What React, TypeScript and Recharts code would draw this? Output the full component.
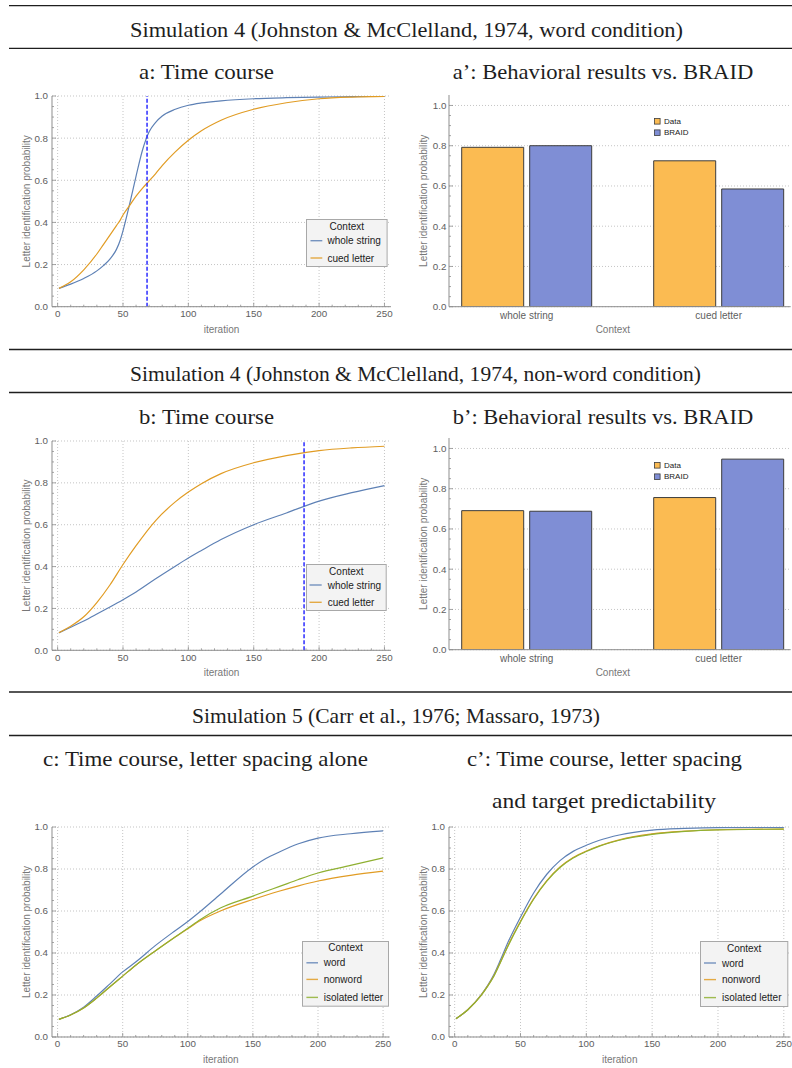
import React from 'react';
import { LineChart, Line, XAxis, YAxis, CartesianGrid, ReferenceLine, BarChart, Bar } from 'recharts';

// ---------------- data ----------------
const ITER_A = [1, 10, 20, 30, 35, 40, 45, 48, 50, 55, 60, 65, 70, 75, 80, 90, 100, 110, 125, 150, 175, 200, 225, 250];
const A_WHOLE = [0.087, 0.107, 0.134, 0.17, 0.195, 0.226, 0.272, 0.318, 0.36, 0.485, 0.62, 0.745, 0.83, 0.875, 0.905, 0.937, 0.956, 0.967, 0.977, 0.987, 0.992, 0.995, 0.997, 0.998];
const A_CUED = [0.087, 0.118, 0.175, 0.25, 0.295, 0.34, 0.385, 0.412, 0.435, 0.48, 0.525, 0.563, 0.597, 0.632, 0.67, 0.735, 0.79, 0.835, 0.885, 0.937, 0.968, 0.987, 0.995, 0.998];
const A_THRESHOLD = 68.4;

const ITER_B = [1, 10, 20, 30, 40, 50, 60, 75, 90, 100, 110, 125, 150, 175, 200, 225, 250];
const B_WHOLE = [0.084, 0.11, 0.14, 0.173, 0.207, 0.242, 0.279, 0.342, 0.402, 0.441, 0.477, 0.529, 0.6, 0.656, 0.713, 0.753, 0.787];
const B_CUED = [0.084, 0.115, 0.16, 0.228, 0.312, 0.41, 0.5, 0.62, 0.709, 0.756, 0.796, 0.844, 0.896, 0.93, 0.954, 0.967, 0.975];
const B_THRESHOLD = 188.5;

const ITER_C = [1, 10, 20, 30, 40, 50, 60, 75, 90, 100, 110, 125, 150, 160, 170, 185, 200, 225, 250];
const C_WORD = [0.084, 0.106, 0.142, 0.195, 0.252, 0.31, 0.357, 0.435, 0.505, 0.55, 0.6, 0.68, 0.81, 0.85, 0.88, 0.92, 0.947, 0.968, 0.982];
const C_NONWORD = [0.084, 0.105, 0.138, 0.185, 0.238, 0.29, 0.342, 0.41, 0.475, 0.516, 0.556, 0.6, 0.655, 0.675, 0.694, 0.72, 0.743, 0.77, 0.79];
const C_ISOLATED = [0.084, 0.105, 0.138, 0.185, 0.238, 0.29, 0.342, 0.41, 0.475, 0.518, 0.561, 0.614, 0.671, 0.694, 0.716, 0.75, 0.781, 0.817, 0.853];

const ITER_D = [1, 10, 20, 25, 30, 35, 40, 50, 60, 70, 80, 90, 100, 110, 125, 150, 175, 200, 250];
const D_WORD = [0.087, 0.13, 0.2, 0.245, 0.3, 0.37, 0.444, 0.571, 0.686, 0.775, 0.84, 0.884, 0.913, 0.937, 0.962, 0.985, 0.993, 0.997, 0.998];
const D_NONWORD = [0.087, 0.13, 0.198, 0.242, 0.294, 0.36, 0.429, 0.551, 0.659, 0.745, 0.81, 0.855, 0.886, 0.911, 0.939, 0.967, 0.98, 0.987, 0.99];
const D_ISOLATED = [0.087, 0.13, 0.197, 0.241, 0.292, 0.358, 0.426, 0.548, 0.656, 0.742, 0.807, 0.852, 0.883, 0.909, 0.937, 0.965, 0.979, 0.986, 0.99];

const BAR_CATEGORIES = ['whole string', 'cued letter'];
const A_DATA = [0.792, 0.725];
const A_BRAID = [0.8, 0.585];
const B_DATA = [0.691, 0.756];
const B_BRAID = [0.688, 0.947];

const X_TICKS = [0, 50, 100, 150, 200, 250];
const X_MINOR_TICKS = [0, 10, 20, 30, 40, 50, 60, 70, 80, 90, 100, 110, 120, 130, 140, 150, 160, 170, 180, 190, 200, 210, 220, 230, 240, 250];
const Y_TICKS = [0, 0.2, 0.4, 0.6, 0.8, 1.0];
const Y_MINOR_TICKS = [0, 0.05, 0.1, 0.15, 0.2, 0.25, 0.3, 0.35, 0.4, 0.45, 0.5, 0.55, 0.6, 0.65, 0.7, 0.75, 0.8, 0.85, 0.9, 0.95, 1.0];

const TITLES = [
  { t: 'Simulation 4 (Johnston & McClelland, 1974, word condition)', x: 130, y: 36.7, w: 553 },
  { t: 'a: Time course', x: 139, y: 79, w: 135 },
  { t: 'a\u2019: Behavioral results vs. BRAID', x: 452.7, y: 79, w: 300.6 },
  { t: 'Simulation 4 (Johnston & McClelland, 1974, non-word condition)', x: 130, y: 380.8, w: 571 },
  { t: 'b: Time course', x: 139, y: 423.5, w: 135 },
  { t: 'b\u2019: Behavioral results vs. BRAID', x: 452.7, y: 423.5, w: 300.6 },
  { t: 'Simulation 5 (Carr et al., 1976; Massaro, 1973)', x: 192, y: 723, w: 408 },
  { t: 'c: Time course, letter spacing alone', x: 43, y: 766, w: 325 },
  { t: 'c\u2019: Time course, letter spacing', x: 467, y: 766, w: 275 },
  { t: 'and target predictability', x: 492, y: 808, w: 224 },
];
const RULES = [5.7, 48.3, 349.5, 392.5, 692, 735.5];

// ---------------- styles ----------------
const SANS = '"Liberation Sans", Arial, Helvetica, sans-serif';
const SERIF = '"Liberation Serif", "DejaVu Serif", serif';
const FRAME = '#8e8e8e';
const TICK_TEXT = '#5e5e5e';
const LABEL_TEXT = '#777777';
const BLUE = '#5e81b5';
const ORANGE = '#e19c24';
const GREEN = '#8fb032';
const DATA_FILL = '#fbbb52';
const BRAID_FILL = '#7f8ed5';
const BAR_EDGE = '#3c3c3c';
const THRESH = '#2c2cff';
const GRID = '#c4c4c4';

const near = (v: number, arr: number[]) => arr.some((m) => Math.abs(m - v) < 1e-6);

function makeTick(side: 'bottom' | 'top' | 'left' | 'right', majors: number[], fmt: ((v: number) => string) | null, gap: number) {
  return (props: any) => {
    const { x, y, payload } = props;
    const v = payload.value as number;
    const major = near(v, majors);
    const len = major ? 4 : 2;
    let line: any = null;
    if (side === 'bottom') line = <line x1={x} x2={x} y1={y} y2={y - len} stroke={FRAME} strokeWidth={0.8} />;
    if (side === 'top') line = <line x1={x} x2={x} y1={y} y2={y + len} stroke={FRAME} strokeWidth={0.8} />;
    if (side === 'left') line = <line x1={x} x2={x + len} y1={y} y2={y} stroke={FRAME} strokeWidth={0.8} />;
    if (side === 'right') line = <line x1={x} x2={x - len} y1={y} y2={y} stroke={FRAME} strokeWidth={0.8} />;
    let label: any = null;
    if (major && fmt) {
      if (side === 'bottom')
        label = (
          <text x={x} y={y + gap} textAnchor="middle" dominantBaseline="central" fontSize={9.8} fontFamily={SANS} fill={TICK_TEXT}>
            {fmt(v)}
          </text>
        );
      if (side === 'left')
        label = (
          <text x={x - gap} y={y} textAnchor="end" dominantBaseline="central" fontSize={9.8} fontFamily={SANS} fill={TICK_TEXT}>
            {fmt(v)}
          </text>
        );
    }
    return (
      <g>
        {line}
        {label}
      </g>
    );
  };
}

const fmtX = (v: number) => String(v);
const fmtY = (v: number) => v.toFixed(1);

const yLabel = (offset: number) => (props: any) => {
  const vb = props.viewBox;
  const cx = vb.x + vb.width - offset;
  const cy = vb.y + vb.height / 2;
  return (
    <text x={cx} y={cy} transform={`rotate(-90 ${cx} ${cy})`} textAnchor="middle" dominantBaseline="central" fontSize={10} fontFamily={SANS} fill={LABEL_TEXT}>
      Letter identification probability
    </text>
  );
};

const xLabel = (text: string, dy: number, dx: number) => (props: any) => {
  const vb = props.viewBox;
  return (
    <text x={vb.x + vb.width / 2 + dx} y={vb.y + dy} textAnchor="middle" dominantBaseline="central" fontSize={10} fontFamily={SANS} fill={LABEL_TEXT}>
      {text}
    </text>
  );
};

type Series = { key: string; name: string; color: string; values: number[] };
type LegendSpec = { x: number; y: number; w: number; h: number; titleY: number; rows: number[]; lx0: number; lx1: number; tx: number };

const Y_AXIS_W = 40;
const X_AXIS_H = 30;

function LineLegend({ spec, series }: { spec: LegendSpec; series: Series[] }) {
  return (
    <svg style={{ position: 'absolute', left: spec.x, top: spec.y, overflow: 'visible' }} width={spec.w} height={spec.h}>
      <rect x={0.5} y={0.5} width={spec.w - 1} height={spec.h - 1} fill="#f3f3f3" stroke="#a8a8a8" strokeWidth={1} />
      <text x={spec.w / 2} y={spec.titleY} textAnchor="middle" dominantBaseline="central" fontSize={10} fontFamily={SANS} fill="#222">
        Context
      </text>
      {series.map((s, i) => (
        <g key={s.key}>
          <line x1={spec.lx0} x2={spec.lx1} y1={spec.rows[i]} y2={spec.rows[i]} stroke={s.color} strokeWidth={1.4} strokeOpacity={0.85} />
          <text x={spec.tx} y={spec.rows[i]} dominantBaseline="central" fontSize={10} fontFamily={SANS} fill="#222">
            {s.name}
          </text>
        </g>
      ))}
    </svg>
  );
}

function TimeCourse(props: {
  left: number;
  top: number;
  width: number;
  height: number;
  iterations: number[];
  series: Series[];
  threshold?: number;
  legend: LegendSpec;
}) {
  const { left, top, width, height, iterations, series, threshold, legend } = props;
  const data = iterations.map((it, i) => {
    const row: any = { it };
    series.forEach((s) => (row[s.key] = s.values[i]));
    return row;
  });
  const ML = 52;
  const MT = 20;
  const MR = 10;
  const MB = 40;
  const xDomain: [number, number] = [-4.3, 255];
  return (
    <>
      <div style={{ position: 'absolute', left: left - ML, top: top - MT }}>
        <LineChart
          width={width + ML + MR}
          height={height + MT + MB}
          data={data}
          margin={{ left: ML - Y_AXIS_W, top: MT, right: MR, bottom: MB - X_AXIS_H }}
        >
          <CartesianGrid stroke={GRID} strokeDasharray="1 2" verticalValues={X_TICKS} horizontalValues={Y_TICKS} />
          <XAxis
            dataKey="it"
            type="number"
            domain={xDomain}
            allowDataOverflow
            ticks={X_MINOR_TICKS}
            interval={0}
            height={X_AXIS_H}
            tickSize={0}
            tickMargin={0}
            tickLine={false}
            axisLine={{ stroke: FRAME }}
            tick={makeTick('bottom', X_TICKS, fmtX, 7)}
            label={{ content: xLabel('iteration', 22.6, 0) }}
          />
          <XAxis
            xAxisId="top"
            orientation="top"
            dataKey="it"
            type="number"
            domain={xDomain}
            allowDataOverflow
            ticks={X_MINOR_TICKS}
            interval={0}
            height={0}
            tickSize={0}
            tickMargin={0}
            tickLine={false}
            axisLine={{ stroke: FRAME }}
            tick={makeTick('top', X_TICKS, null, 0)}
          />
          <YAxis
            type="number"
            domain={[0, 1]}
            allowDataOverflow
            ticks={Y_MINOR_TICKS}
            interval={0}
            width={Y_AXIS_W}
            tickSize={0}
            tickMargin={0}
            tickLine={false}
            axisLine={{ stroke: FRAME }}
            tick={makeTick('left', Y_TICKS, fmtY, 4)}
            label={{ content: yLabel(25.5) }}
          />
          <YAxis
            yAxisId="right"
            orientation="right"
            type="number"
            domain={[0, 1]}
            allowDataOverflow
            ticks={Y_MINOR_TICKS}
            interval={0}
            width={0}
            tickSize={0}
            tickMargin={0}
            tickLine={false}
            axisLine={{ stroke: FRAME }}
            tick={makeTick('right', Y_TICKS, null, 0)}
          />
          {series.map((s) => (
            <Line key={s.key} type="monotone" dataKey={s.key} name={s.name} stroke={s.color} strokeWidth={1.2} dot={false} isAnimationActive={false} />
          ))}
          {threshold !== undefined && <ReferenceLine x={threshold} stroke={THRESH} strokeWidth={1.5} strokeDasharray="4 2" />}
        </LineChart>
      </div>
      <LineLegend spec={legend} series={series} />
    </>
  );
}

function BarPanel(props: { left: number; top: number; width: number; height: number; dataVals: number[]; braidVals: number[]; legendX: number; legendY: number }) {
  const { left, top, width, height, dataVals, braidVals, legendX, legendY } = props;
  const data = BAR_CATEGORIES.map((c, i) => ({ cat: c, data: dataVals[i], braid: braidVals[i] }));
  const ML = 52;
  const MT = 20;
  const MR = 10;
  const MB = 40;
  const yDomain: [number, number] = [0, 1.052];
  const catTick = (p: any) => (
    <text x={p.x} y={p.y + 8.5} textAnchor="middle" dominantBaseline="central" fontSize={10} fontFamily={SANS} fill={TICK_TEXT}>
      {p.payload.value}
    </text>
  );
  const legendItems = [
    { name: 'Data', fill: DATA_FILL },
    { name: 'BRAID', fill: BRAID_FILL },
  ];
  return (
    <>
      <div style={{ position: 'absolute', left: left - ML, top: top - MT }}>
        <BarChart
          width={width + ML + MR}
          height={height + MT + MB}
          data={data}
          barGap={6}
          margin={{ left: ML - Y_AXIS_W, top: MT, right: MR, bottom: MB - X_AXIS_H }}
        >
          <CartesianGrid stroke={GRID} strokeDasharray="1 2" vertical={false} horizontalValues={Y_TICKS} />
          <XAxis
            dataKey="cat"
            type="category"
            padding={{ left: -18.3, right: -24 }}
            height={X_AXIS_H}
            tickSize={0}
            tickMargin={0}
            tickLine={false}
            axisLine={{ stroke: FRAME }}
            tick={catTick}
            interval={0}
            label={{ content: xLabel('Context', 22.5, -7) }}
          />
          <XAxis xAxisId="top" orientation="top" dataKey="cat" type="category" height={0} tickLine={false} tick={false} axisLine={{ stroke: FRAME }} />
          <YAxis
            type="number"
            domain={yDomain}
            allowDataOverflow
            ticks={Y_MINOR_TICKS}
            interval={0}
            width={Y_AXIS_W}
            tickSize={0}
            tickMargin={0}
            tickLine={false}
            axisLine={{ stroke: FRAME }}
            tick={makeTick('left', Y_TICKS, fmtY, 2.6)}
            label={{ content: yLabel(25.5) }}
          />
          <YAxis
            yAxisId="right"
            orientation="right"
            type="number"
            domain={yDomain}
            allowDataOverflow
            ticks={Y_MINOR_TICKS}
            interval={0}
            width={0}
            tickSize={0}
            tickMargin={0}
            tickLine={false}
            axisLine={{ stroke: FRAME }}
            tick={makeTick('right', Y_TICKS, null, 0)}
          />
          <Bar dataKey="data" name="Data" fill={DATA_FILL} stroke={BAR_EDGE} strokeWidth={1} barSize={62} isAnimationActive={false} />
          <Bar dataKey="braid" name="BRAID" fill={BRAID_FILL} stroke={BAR_EDGE} strokeWidth={1} barSize={62} isAnimationActive={false} />
        </BarChart>
      </div>
      <svg style={{ position: 'absolute', left: legendX, top: legendY, overflow: 'visible' }} width={50} height={20}>
        {legendItems.map((it, i) => (
          <g key={it.name}>
            <rect x={0.5} y={0.5 + i * 11.4} width={5.6} height={5.6} fill={it.fill} stroke={BAR_EDGE} strokeWidth={0.8} />
            <text x={10} y={3.3 + i * 11.4} dominantBaseline="central" fontSize={8} fontFamily={SANS} fill="#222">
              {it.name}
            </text>
          </g>
        ))}
      </svg>
    </>
  );
}

const SERIES_A: Series[] = [
  { key: 'whole', name: 'whole string', color: BLUE, values: A_WHOLE },
  { key: 'cued', name: 'cued letter', color: ORANGE, values: A_CUED },
];
const SERIES_B: Series[] = [
  { key: 'whole', name: 'whole string', color: BLUE, values: B_WHOLE },
  { key: 'cued', name: 'cued letter', color: ORANGE, values: B_CUED },
];
const SERIES_C: Series[] = [
  { key: 'word', name: 'word', color: BLUE, values: C_WORD },
  { key: 'nonword', name: 'nonword', color: ORANGE, values: C_NONWORD },
  { key: 'isolated', name: 'isolated letter', color: GREEN, values: C_ISOLATED },
];
const SERIES_D: Series[] = [
  { key: 'word', name: 'word', color: BLUE, values: D_WORD },
  { key: 'nonword', name: 'nonword', color: ORANGE, values: D_NONWORD },
  { key: 'isolated', name: 'isolated letter', color: GREEN, values: D_ISOLATED },
];

export default function App() {
  return (
    <div style={{ position: 'absolute', left: 0, top: 0, width: 792, height: 1068, overflow: 'hidden', background: '#fff' }}>
      <svg style={{ position: 'absolute', left: 0, top: 0 }} width={792} height={1068}>
        {RULES.map((y, i) => (
          <line key={i} x1={9} x2={792} y1={y} y2={y} stroke="#1e1e1e" strokeWidth={1.3} />
        ))}
        {TITLES.map((t, i) => (
          <text key={i} x={t.x} y={t.y} fontSize={21} fontFamily={SERIF} fill="#1e1e1e" textLength={t.w} lengthAdjust="spacingAndGlyphs">
            {t.t}
          </text>
        ))}
      </svg>
      <TimeCourse
        left={51.7}
        top={96}
        width={339}
        height={210.7}
        iterations={ITER_A}
        series={SERIES_A}
        threshold={A_THRESHOLD}
        legend={{ x: 305.7, y: 219.3, w: 81.6, h: 48, titleY: 7.6, rows: [21.7, 39], lx0: 4.5, lx1: 16.3, tx: 21.5 }}
      />
      <BarPanel left={449.3} top={95} width={341.7} height={211.7} dataVals={A_DATA} braidVals={A_BRAID} legendX={654} legendY={118} />
      <TimeCourse
        left={51.7}
        top={440.7}
        width={339}
        height={209.3}
        iterations={ITER_B}
        series={SERIES_B}
        threshold={B_THRESHOLD}
        legend={{ x: 306, y: 564, w: 80.7, h: 47, titleY: 7.7, rows: [21, 38.3], lx0: 3.5, lx1: 15.7, tx: 21.7 }}
      />
      <BarPanel left={449.3} top={438.3} width={341.7} height={211.7} dataVals={B_DATA} braidVals={B_BRAID} legendX={654} legendY={462} />
      <TimeCourse
        left={51.7}
        top={826.7}
        width={337.6}
        height={210}
        iterations={ITER_C}
        series={SERIES_C}
        legend={{ x: 302.3, y: 941, w: 87, h: 65.7, titleY: 6.9, rows: [21.8, 38.4, 56.4], lx0: 4.4, lx1: 16, tx: 21.7 }}
      />
      <TimeCourse
        left={449.3}
        top={826.7}
        width={341.4}
        height={210}
        iterations={ITER_D}
        series={SERIES_D}
        legend={{ x: 700, y: 940.7, w: 88.3, h: 66, titleY: 7, rows: [22, 38.6, 56.6], lx0: 4, lx1: 16, tx: 22 }}
      />
    </div>
  );
}
